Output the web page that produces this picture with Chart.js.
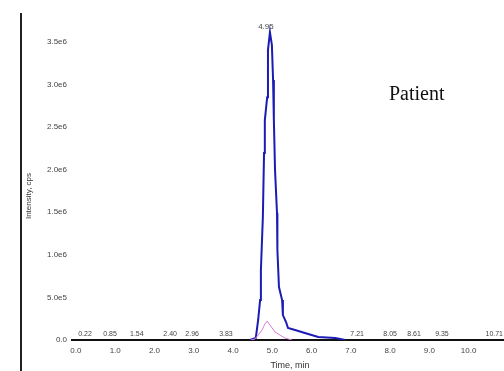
<!DOCTYPE html>
<html>
<head>
<meta charset="utf-8">
<script src="https://cdn.jsdelivr.net/npm/chart.js@4.4.0/dist/chart.umd.min.js"></script>
<style>
  html, body { margin: 0; padding: 0; background: #fff; }
  #wrap { width: 504px; height: 371px; position: relative; }
</style>
</head>
<body>
<div id="wrap"><canvas id="chart" width="504" height="371"></canvas></div>
<script>
// XIC trace (patient sample), time in min, intensity in cps
const blueTime = [4.43, 4.58, 4.64, 4.69, 4.71, 4.76, 4.79, 4.81, 4.87, 4.89, 4.94, 4.99, 5.02, 5.04, 5.07, 5.12, 5.13, 5.17, 5.25, 5.27, 5.35, 5.40, 5.58, 5.83, 6.17, 6.60, 6.86];
const blueIntensity = [0, 23500, 235000, 469000, 822000, 1444000, 2195000, 2582000, 2852000, 3404000, 3615000, 3462000, 3052000, 2582000, 1995000, 1491000, 1056000, 622000, 469000, 293000, 211000, 141000, 117000, 82000, 35000, 23500, 0];

const pinkTime = [4.45, 4.56, 4.74, 4.81, 4.87, 4.94, 5.07, 5.32, 5.50];
const pinkIntensity = [0, 11700, 117000, 188000, 223000, 176000, 94000, 23500, 0];

// apex label + small peak labels along the baseline
const apexTime = 4.94;
const apexIntensity = 3615000;
const apexLabel = '4.95';
const minorPeakTimes = [0.23, 0.87, 1.55, 2.40, 2.96, 3.82, 7.16, 8.00, 8.61, 9.32, 10.72];
const minorPeakLabels = ['0.22', '0.85', '1.54', '2.40', '2.96', '3.83', '7.21', '8.05', '8.61', '9.35', '10.71'];

const xTickValues = [0, 1, 2, 3, 4, 5, 6, 7, 8, 9, 10];
const xTickLabels = ['0.0', '1.0', '2.0', '3.0', '4.0', '5.0', '6.0', '7.0', '8.0', '9.0', '10.0'];
const yTickValues = [0, 500000, 1000000, 1500000, 2000000, 2500000, 3000000, 3500000];
const yTickLabels = ['0.0', '5.0e5', '1.0e6', '1.5e6', '2.0e6', '2.5e6', '3.0e6', '3.5e6'];

const toPoints = (xs, ys) => xs.map((x, i) => ({ x: x, y: ys[i] }));

const labelColor = '#444';

const decorations = {
  id: 'decorations',
  afterDraw(chart) {
    const ctx = chart.ctx;
    const xs = chart.scales.x;
    const ys = chart.scales.y;
    ctx.save();

    // left frame line
    ctx.strokeStyle = '#222';
    ctx.lineWidth = 2;
    ctx.beginPath();
    ctx.moveTo(21, 13);
    ctx.lineTo(21, 371);
    ctx.stroke();

    // y title
    ctx.fillStyle = '#333';
    ctx.font = '8px "Liberation Sans", Arial, sans-serif';
    ctx.textAlign = 'center';
    ctx.textBaseline = 'middle';
    ctx.save();
    ctx.translate(29, 196);
    ctx.rotate(-Math.PI / 2);
    ctx.fillText('Intensity, cps', 0, 0);
    ctx.restore();

    // x title
    ctx.font = '9px "Liberation Sans", Arial, sans-serif';
    ctx.fillText('Time, min', 290, 366);

    // apex label
    ctx.fillStyle = labelColor;
    ctx.font = '8px "Liberation Sans", Arial, sans-serif';
    ctx.textBaseline = 'bottom';
    ctx.fillText(apexLabel, xs.getPixelForValue(apexTime) - 4, ys.getPixelForValue(apexIntensity) - 1);

    // minor peak labels, kept inside the canvas
    ctx.font = '7px "Liberation Sans", Arial, sans-serif';
    ctx.textBaseline = 'middle';
    minorPeakTimes.forEach((t, i) => {
      const half = ctx.measureText(minorPeakLabels[i]).width / 2;
      const px = Math.min(xs.getPixelForValue(t), chart.width - half - 1);
      ctx.fillText(minorPeakLabels[i], px, 334);
    });

    // sample name
    ctx.fillStyle = '#111';
    ctx.font = '20px "Liberation Serif", "Times New Roman", serif';
    ctx.textAlign = 'left';
    ctx.textBaseline = 'alphabetic';
    ctx.fillText('Patient', 389, 100);

    ctx.restore();
  }
};

new Chart(document.getElementById('chart'), {
  type: 'line',
  data: {
    datasets: [
      {
        data: toPoints(pinkTime, pinkIntensity),
        borderColor: '#e07ad8',
        borderWidth: 1,
        pointRadius: 0,
        tension: 0
      },
      {
        data: toPoints(blueTime, blueIntensity),
        borderColor: '#1c1cb4',
        borderWidth: 2,
        pointRadius: 0,
        tension: 0
      }
    ]
  },
  options: {
    responsive: false,
    animation: false,
    layout: { padding: { top: 13, left: 0, right: 0, bottom: 0 } },
    plugins: { legend: { display: false }, tooltip: { enabled: false } },
    scales: {
      x: {
        type: 'linear',
        min: -0.1,
        max: 10.9,
        afterFit(scale) { scale.height = 31; },
        afterBuildTicks(scale) { scale.ticks = xTickValues.map(v => ({ value: v })); },
        grid: { display: false, drawTicks: false },
        border: { display: true, color: '#111', width: 2 },
        ticks: {
          padding: 6,
          color: labelColor,
          font: { family: '"Liberation Sans", Arial, sans-serif', size: 8 },
          maxRotation: 0,
          autoSkip: false,
          callback: (v, i) => xTickLabels[i]
        }
      },
      y: {
        type: 'linear',
        min: 0,
        max: 3840000,
        afterFit(scale) { scale.width = 72; },
        afterBuildTicks(scale) { scale.ticks = yTickValues.map(v => ({ value: v })); },
        grid: { display: false, drawTicks: false },
        border: { display: false },
        ticks: {
          padding: 5,
          color: labelColor,
          font: { family: '"Liberation Sans", Arial, sans-serif', size: 8 },
          autoSkip: false,
          callback: (v, i) => yTickLabels[i]
        }
      }
    }
  },
  plugins: [decorations]
});
</script>
</body>
</html>
